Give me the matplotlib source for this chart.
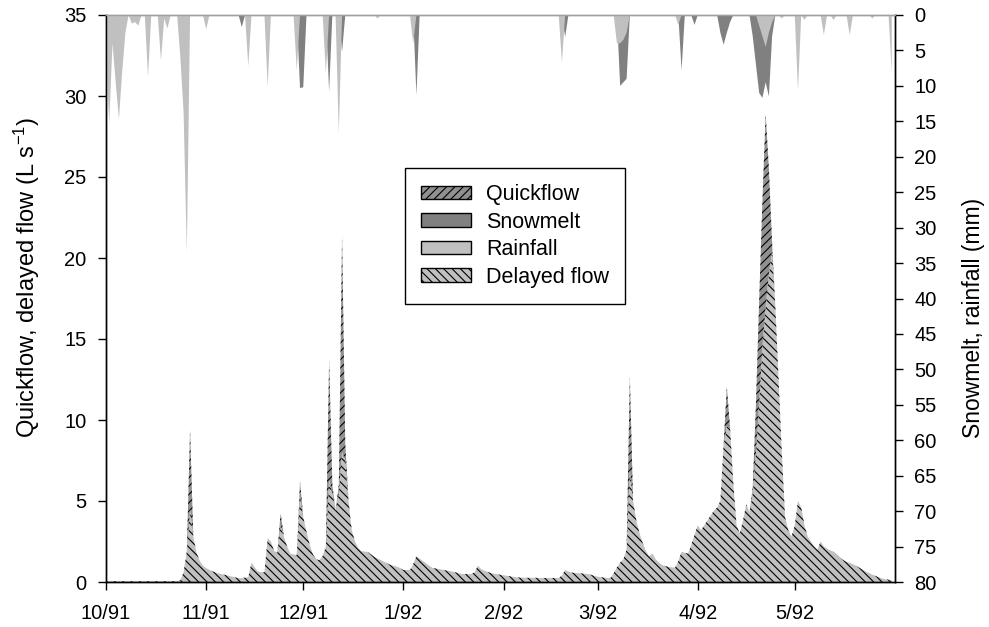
import numpy as np
import pandas as pd
import matplotlib
matplotlib.use('Agg')
import matplotlib.pyplot as plt
from matplotlib.patches import Patch

plt.rcParams['font.family'] = ['Liberation Sans', 'DejaVu Sans']
plt.rcParams['mathtext.fontset'] = 'custom'
plt.rcParams['mathtext.rm'] = 'Liberation Sans'
plt.rcParams['mathtext.default'] = 'regular'
plt.rcParams['hatch.color'] = 'black'
plt.rcParams['hatch.linewidth'] = 0.8

# daily delayed flow (L/s), 1 Oct 1991 - 31 May 1992, one list per month
delayed_oct = [0.05] * 23 + [0.1, 0.6, 1.9, 4.5, 2.8, 1.8, 1.3, 1.0]
delayed_nov = [0.85, 0.75, 0.65, 0.58, 0.52, 0.47, 0.43, 0.38, 0.33, 0.28,
               0.24, 0.24, 0.27, 0.3, 1.2, 0.9, 0.65, 0.6, 0.6, 2.7,
               2.5, 1.9, 1.8, 3.5, 2.8, 2.2, 1.75, 1.7, 1.65, 5.3]
delayed_dec = [4.0, 3.1, 2.3, 1.7, 1.4, 1.35, 1.6, 2.2, 6.3, 5.5,
               4.4, 5.5, 8.0, 7.5, 5.0, 3.2, 2.5, 2.1, 1.9, 1.88,
               1.85, 1.7, 1.55, 1.45, 1.35, 1.25, 1.15, 1.05, 1.0, 0.95,
               0.85]
delayed_jan = [0.74, 0.74, 0.74, 1.1, 1.6, 1.45, 1.3, 1.15, 1.0, 0.87,
               0.83, 0.8, 0.76, 0.72, 0.69, 0.65, 0.6, 0.55, 0.5, 0.49,
               0.49, 0.49, 0.6, 1.0, 0.8, 0.7, 0.62, 0.56, 0.52, 0.48,
               0.44]
delayed_feb = [0.42, 0.38, 0.35, 0.32, 0.29, 0.27, 0.27, 0.26, 0.26, 0.26,
               0.26, 0.25, 0.25, 0.25, 0.25, 0.25, 0.25, 0.25, 0.4, 0.74,
               0.65, 0.58, 0.56, 0.55, 0.53, 0.51, 0.49, 0.45, 0.38]
delayed_mar = [0.33, 0.3, 0.27, 0.25, 0.25, 0.55, 0.9, 1.2, 1.4, 2.0,
               6.9, 5.0, 3.8, 3.0, 2.4, 1.9, 1.6, 1.75, 1.4, 1.2,
               1.05, 0.98, 0.93, 0.9, 0.88, 1.3, 1.87, 1.8, 1.75, 2.3,
               2.9]
delayed_apr = [3.5, 3.2, 3.5, 3.8, 4.1, 4.4, 4.6, 5.0, 8.5, 9.6,
               9.5, 6.1, 3.5, 3.0, 3.8, 4.8, 4.3, 5.5, 8.0, 11.0,
               14.5, 17.0, 19.0, 20.5, 17.0, 12.5, 8.0, 4.0, 3.2, 2.8]
delayed_may = [3.5, 5.0, 4.6, 3.5, 2.8, 2.5, 2.2, 2.0, 2.5, 2.2,
               2.05, 1.95, 1.87, 1.7, 1.5, 1.35, 1.25, 1.18, 1.1, 1.0,
               0.88, 0.76, 0.64, 0.55, 0.45, 0.37, 0.29, 0.22, 0.17, 0.14,
               0.12]

# quickflow on top of delayed flow (day = days since 1 Oct 1991)
quick_day = [26, 54, 60, 69, 70, 72, 73, 74, 162, 192, 200, 201, 202, 203, 204, 205, 206]
quick_flow = [4.9, 0.75, 0.9, 7.4, 0.5, 0.5, 13.4, 1.0, 5.8, 2.45, 0.3, 3.0, 6.4, 9.0, 11.9, 6.5, 0.4]

# daily rainfall and snowmelt (mm)
rain_day = [0, 1, 2, 3, 4, 5, 6, 8, 9, 10, 13, 17, 18, 19, 23, 24, 25, 31, 44, 50,
            59, 68, 72, 84, 95, 141, 158, 159, 160, 161, 177, 202, 203, 204, 205, 206,
            209, 214, 216, 222, 225, 230, 237, 243]
rain_mm = [6, 15.3, 4, 9.5, 14.7, 8, 2.5, 1.2, 1.0, 1.5, 8.7, 6.4, 0.5, 1.9, 6, 13.8, 33.5, 2.0, 7.2, 10.1,
           7.8, 8.2, 16.7, 0.5, 4.0, 6.7, 4, 4, 3.5, 2.5, 1.4, 1.5, 3, 4.5, 2.5, 1,
           0.5, 10.6, 0.7, 2.8, 0.7, 2.8, 0.5, 8.0]
snow_day = [42, 60, 61, 69, 73, 96, 142, 159, 160, 161, 178, 182, 190, 191, 192, 193,
            200, 201, 202, 203, 204, 205, 206]
snow_mm = [1.7, 10.3, 10.2, 10.8, 5.2, 11.3, 3.1, 10, 9.5, 9, 7.8, 1.4, 2.5, 4.2, 2.5, 1.0,
           3, 7, 11, 11.7, 9.5, 11.5, 3]

month_ticks = ['1991-10-01', '1991-11-01', '1991-12-01', '1992-01-01', '1992-02-01',
               '1992-03-01', '1992-04-01', '1992-05-01']
month_labels = ['10/91', '11/91', '12/91', '1/92', '2/92', '3/92', '4/92', '5/92']

delayed = np.array(delayed_oct + delayed_nov + delayed_dec + delayed_jan +
                   delayed_feb + delayed_mar + delayed_apr + delayed_may)
dates = pd.date_range('1991-10-01', periods=len(delayed), freq='D')
quick = np.zeros(len(delayed))
quick[quick_day] = quick_flow
rain = np.zeros(len(delayed))
rain[rain_day] = rain_mm
snow = np.zeros(len(delayed))
snow[snow_day] = snow_mm

fig = plt.figure(figsize=(9.89, 6.27), dpi=100)
ax = fig.add_axes([106 / 989, 45 / 627, 789 / 989, 567 / 627])
ax2 = ax.twinx()

ax.fill_between(dates, 0, delayed, facecolor='#c0c0c0', edgecolor='black',
                hatch='\\\\\\\\', linewidth=0)
ax.fill_between(dates, delayed, delayed + quick, facecolor='#909090', edgecolor='black',
                hatch='////', linewidth=0)

ax2.fill_between(dates, 0, snow, facecolor='#808080', linewidth=0)
ax2.fill_between(dates, 0, rain, facecolor='#c0c0c0', linewidth=0)

ax.set_xlim(pd.Timestamp('1991-10-01'), pd.Timestamp('1992-06-01'))
ax.set_ylim(0, 35)
ax2.set_ylim(80, 0)
ax.set_yticks(range(0, 36, 5))
ax2.set_yticks(range(0, 81, 5))
ax.set_xticks(pd.to_datetime(month_ticks))
ax.set_xticklabels(month_labels)

for a in (ax, ax2):
    a.tick_params(direction='out', length=6, width=1, labelsize=14.5, pad=8)
    for s in a.spines.values():
        s.set_linewidth(1)
    a.spines['top'].set_color('#a0a0a0')
ax.tick_params(axis='x', pad=10)

ax.set_ylabel('Quickflow, delayed flow (L s$^{-1}$)', fontsize=17)
ax.yaxis.set_label_coords(-0.081, 0.537)
ax2.set_ylabel('Snowmelt, rainfall (mm)', fontsize=16.5)
ax2.yaxis.set_label_coords(1.0845, 0.465)

handles = [Patch(facecolor='#909090', edgecolor='black', hatch='////', label='Quickflow'),
           Patch(facecolor='#808080', edgecolor='black', label='Snowmelt'),
           Patch(facecolor='#c0c0c0', edgecolor='black', label='Rainfall'),
           Patch(facecolor='#c0c0c0', edgecolor='black', hatch='\\\\\\\\', label='Delayed flow')]
leg = ax2.legend(handles=handles, loc='upper left', bbox_to_anchor=(0.379, 0.730),
                 borderaxespad=0, fontsize=15.5, fancybox=False, framealpha=1,
                 edgecolor='black', handlelength=2.3, handleheight=0.6,
                 handletextpad=0.7, labelspacing=0.3, borderpad=0.75)
leg.get_frame().set_linewidth(1)

fig.savefig('out.png', dpi=100)
